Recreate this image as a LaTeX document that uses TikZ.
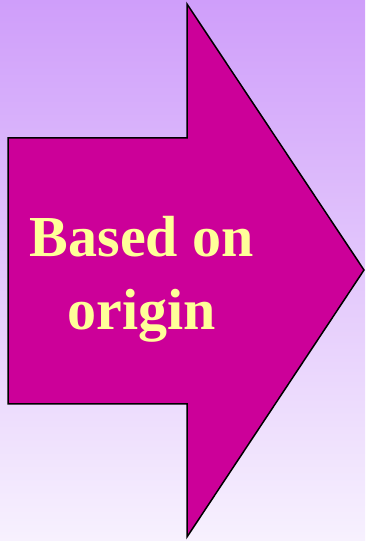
\documentclass[tikz,border=0pt]{standalone}
\usepackage{fontspec}
\setmainfont{Liberation Serif}
\usepackage{xcolor}
\usetikzlibrary{positioning}
\definecolor{bgtop}{RGB}{207,158,250}
\definecolor{bgbottom}{RGB}{247,241,254}
\definecolor{arrowmagenta}{RGB}{204,0,153}
\definecolor{textyellow}{RGB}{255,255,153}

\begin{document}
\begin{tikzpicture}[
  x=1pt, y=1pt,
  bigarrow/.style={draw=black, line width=1.5pt, fill=arrowmagenta, line join=miter},
  lbl/.style={text=textyellow, font=\fontsize{58}{73}\selectfont\bfseries, align=center, inner sep=0pt}
]
% background
\shade[top color=bgtop, bottom color=bgbottom] (0,0) rectangle (365,541);
\useasboundingbox (0,0) rectangle (365,541);

% arrow
\draw[bigarrow] (8,403) -- (187,403) -- (187,537) -- (364,271) -- (187,4) -- (187,137) -- (8,137) -- cycle;
\node[lbl] (origin) at (142,261.5) {Based on\\origin};
\end{tikzpicture}
\end{document}
